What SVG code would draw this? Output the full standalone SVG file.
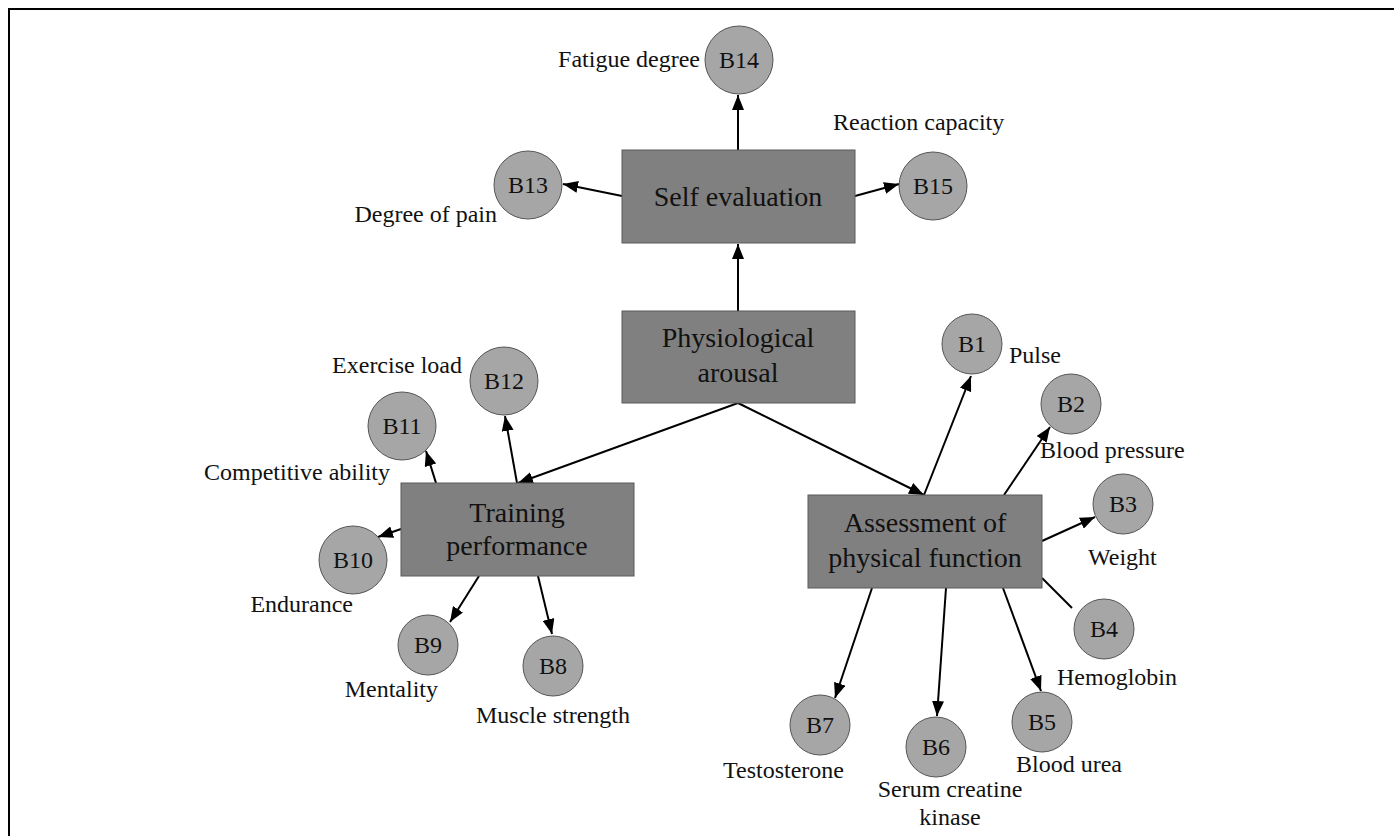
<svg xmlns="http://www.w3.org/2000/svg" width="1394" height="836" viewBox="0 0 1394 836">
<style>
.box{fill:#808080;stroke:#5a5a5a;stroke-width:1}
.c{fill:#a6a6a6;stroke:#555;stroke-width:1}
text{font-family:"Liberation Serif","Times New Roman",serif;fill:#111}
.bt{font-size:28px;text-anchor:middle}
.ct{font-size:24px;text-anchor:middle}
.lb{font-size:24px}
.e{stroke:#000;stroke-width:2;fill:none}
</style>
<defs>
<marker id="ah" markerUnits="userSpaceOnUse" markerWidth="16" markerHeight="12" refX="15" refY="6" orient="auto">
<path d="M0,0 L15,6 L0,12 Z" fill="#000"/>
</marker>
</defs>
<rect x="0" y="0" width="1394" height="836" fill="#fff"/>
<path d="M9,840 V9 H1400" fill="none" stroke="#000" stroke-width="2"/>

<g id="connectors">
<line class="e" x1="738" y1="311" x2="738" y2="244" marker-end="url(#ah)"/>
<line class="e" x1="738" y1="150" x2="738" y2="95" marker-end="url(#ah)"/>
<line class="e" x1="622" y1="196" x2="563" y2="184" marker-end="url(#ah)"/>
<line class="e" x1="855" y1="196" x2="899" y2="184" marker-end="url(#ah)"/>
<line class="e" x1="738" y1="403" x2="518" y2="483" marker-end="url(#ah)"/>
<line class="e" x1="738" y1="403" x2="924" y2="495" marker-end="url(#ah)"/>
<line class="e" x1="517" y1="483" x2="505" y2="416" marker-end="url(#ah)"/>
<line class="e" x1="436" y1="483" x2="426" y2="451" marker-end="url(#ah)"/>
<line class="e" x1="401" y1="529" x2="378" y2="537" marker-end="url(#ah)"/>
<line class="e" x1="479" y1="576" x2="450" y2="622" marker-end="url(#ah)"/>
<line class="e" x1="538" y1="576" x2="552" y2="634" marker-end="url(#ah)"/>
<line class="e" x1="924" y1="495" x2="971" y2="376" marker-end="url(#ah)"/>
<line class="e" x1="1004" y1="495" x2="1050" y2="427" marker-end="url(#ah)"/>
<line class="e" x1="1042" y1="541" x2="1095" y2="517" marker-end="url(#ah)"/>
<line class="e" x1="1042" y1="578" x2="1072" y2="608"/>
<line class="e" x1="1003" y1="588" x2="1041" y2="691" marker-end="url(#ah)"/>
<line class="e" x1="946" y1="588" x2="937" y2="716" marker-end="url(#ah)"/>
<line class="e" x1="872" y1="588" x2="835" y2="698" marker-end="url(#ah)"/>
</g>

<g id="self-evaluation">
<rect class="box" x="622" y="150" width="233" height="93"/>
<text class="bt" x="738" y="206">Self evaluation</text>
</g>
<g id="physiological-arousal">
<rect class="box" x="622" y="311" width="233" height="92"/>
<text class="bt" x="738" y="347">Physiological</text>
<text class="bt" x="738" y="382">arousal</text>
</g>
<g id="training-performance">
<rect class="box" x="401" y="483" width="233" height="93"/>
<text class="bt" x="517" y="522">Training</text>
<text class="bt" x="517" y="555">performance</text>
</g>
<g id="assessment">
<rect class="box" x="808" y="495" width="234" height="93"/>
<text class="bt" x="925" y="532">Assessment of</text>
<text class="bt" x="925" y="567">physical function</text>
</g>

<g id="B14"><circle class="c" cx="739" cy="60" r="34"/><text class="ct" x="739" y="68">B14</text></g>
<g id="B13"><circle class="c" cx="528" cy="185" r="34"/><text class="ct" x="528" y="193">B13</text></g>
<g id="B15"><circle class="c" cx="933" cy="186" r="34"/><text class="ct" x="933" y="194">B15</text></g>
<g id="B12"><circle class="c" cx="504" cy="381" r="34"/><text class="ct" x="504" y="389">B12</text></g>
<g id="B11"><circle class="c" cx="402" cy="426" r="34"/><text class="ct" x="402" y="434">B11</text></g>
<g id="B10"><circle class="c" cx="353" cy="560" r="34"/><text class="ct" x="353" y="568">B10</text></g>
<g id="B9"><circle class="c" cx="428" cy="645" r="30"/><text class="ct" x="428" y="653">B9</text></g>
<g id="B8"><circle class="c" cx="553" cy="666" r="30"/><text class="ct" x="553" y="674">B8</text></g>
<g id="B1"><circle class="c" cx="972" cy="344" r="30"/><text class="ct" x="972" y="352">B1</text></g>
<g id="B2"><circle class="c" cx="1071" cy="404" r="30"/><text class="ct" x="1071" y="412">B2</text></g>
<g id="B3"><circle class="c" cx="1123" cy="504" r="30"/><text class="ct" x="1123" y="512">B3</text></g>
<g id="B4"><circle class="c" cx="1104" cy="629" r="30"/><text class="ct" x="1104" y="637">B4</text></g>
<g id="B5"><circle class="c" cx="1042" cy="722" r="30"/><text class="ct" x="1042" y="730">B5</text></g>
<g id="B6"><circle class="c" cx="936" cy="747" r="30"/><text class="ct" x="936" y="755">B6</text></g>
<g id="B7"><circle class="c" cx="820" cy="725" r="30"/><text class="ct" x="820" y="733">B7</text></g>

<g id="labels">
<text class="lb" x="700" y="67" text-anchor="end">Fatigue degree</text>
<text class="lb" x="833" y="130">Reaction capacity</text>
<text class="lb" x="497" y="222" text-anchor="end">Degree of pain</text>
<text class="lb" x="462" y="373" text-anchor="end">Exercise load</text>
<text class="lb" x="390" y="480" text-anchor="end">Competitive ability</text>
<text class="lb" x="353" y="612" text-anchor="end">Endurance</text>
<text class="lb" x="438" y="697" text-anchor="end">Mentality</text>
<text class="lb" x="553" y="723" text-anchor="middle">Muscle strength</text>
<text class="lb" x="1009" y="363">Pulse</text>
<text class="lb" x="1040" y="458">Blood pressure</text>
<text class="lb" x="1088" y="565">Weight</text>
<text class="lb" x="1057" y="685">Hemoglobin</text>
<text class="lb" x="1016" y="772">Blood urea</text>
<text class="lb" x="950" y="797" text-anchor="middle">Serum creatine</text>
<text class="lb" x="950" y="825" text-anchor="middle">kinase</text>
<text class="lb" x="723" y="778">Testosterone</text>
</g>
</svg>
